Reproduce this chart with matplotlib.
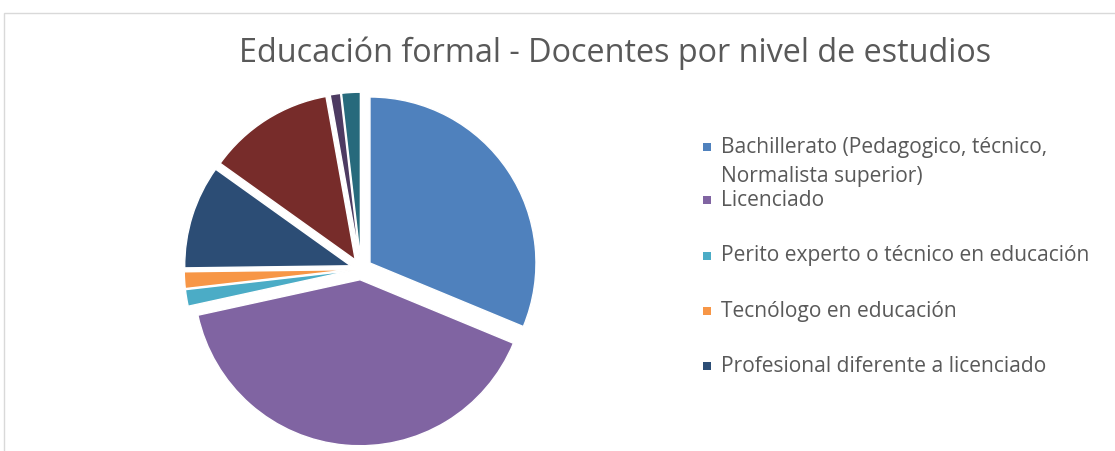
import matplotlib.pyplot as plt
from matplotlib.patches import Rectangle

# data (percent, estimated)
niveles = ['Bachillerato (Pedagogico, técnico,\nNormalista superior)',
           'Licenciado',
           'Perito experto o técnico en educación',
           'Tecnólogo en educación',
           'Profesional diferente a licenciado',
           'Especialización',
           'Maestría',
           'Doctorado']
porcentajes = [31.0, 40.0, 1.6, 1.6, 10.0, 12.2, 1.0, 1.8]
colores = ['#4F81BD', '#8064A2', '#4BACC6', '#F79646',
           '#2C4D75', '#772C2A', '#4D3B62', '#276A7C']
n_leyenda = 5   # the legend in the original is cut after five entries

W, H = 1115, 451
fig = plt.figure(figsize=(W / 100, H / 100), dpi=100)

# chart frame (partly cut off in the original)
fig.patches.append(Rectangle((4 / W, -0.1), 1.2, (H - 13) / H + 0.1,
                             transform=fig.transFigure, fill=False,
                             edgecolor='#D9D9D9', lw=1))

# pie axes: centre at (361, 269) px, radius 166 px
R = 166
lim = 1.25
size = 2 * lim * R
cx, cy = 361, H - 269
ax = fig.add_axes([(cx - size / 2) / W, (cy - size / 2) / H, size / W, size / H])
ax.pie(porcentajes, colors=colores, startangle=90, counterclock=False,
       explode=[0.065] * len(porcentajes),
       wedgeprops=dict(edgecolor='white', linewidth=1))
ax.set_xlim(-lim, lim)
ax.set_ylim(-lim, lim)
ax.set_aspect('equal')
ax.axis('off')

fig.text(615 / W, 1 - 53 / H, 'Educación formal - Docentes por nivel de estudios',
         ha='center', va='center', fontsize=23.3, color='#595959',
         family='Open Sans')

# legend, placed by hand like the Excel one
marca_y = [147, 200, 256, 311, 366]
texto_y = [162, 200, 256, 311, 366]
for i in range(n_leyenda):
    y = 1 - marca_y[i] / H
    fig.patches.append(Rectangle((703 / W, y - 4 / H), 8 / W, 8 / H,
                                 transform=fig.transFigure,
                                 facecolor=colores[i], edgecolor='none'))
    fig.text(721 / W, 1 - texto_y[i] / H, niveles[i], ha='left', va='center',
             fontsize=15.1, color='#595959', family='Open Sans',
             linespacing=1.45)

fig.savefig('out.png', dpi=100)
